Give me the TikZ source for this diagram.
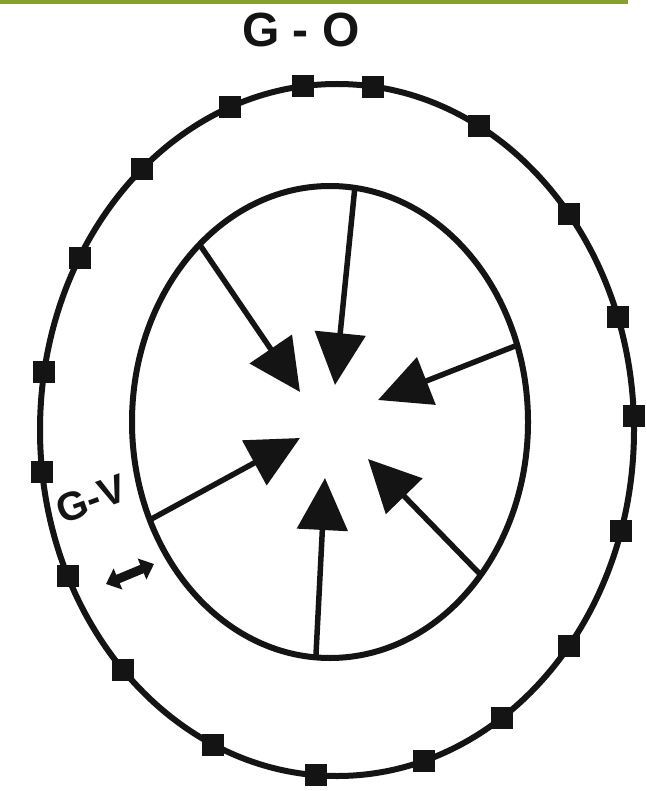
\documentclass[tikz,border=0pt]{standalone}
\usepackage{fontspec}
\setmainfont{Liberation Sans}
\usetikzlibrary{arrows.meta}
\definecolor{barcol}{HTML}{86A02C}
\definecolor{ink}{HTML}{141414}
\tikzset{
  ring/.style={draw=ink, line width=6pt},
  sq/.style={fill=ink, minimum size=22pt, inner sep=0pt, outer sep=0pt},
  pusharrow/.style={draw=ink, line width=5.5pt, -{Triangle[length=52pt,width=50pt]}, color=ink},
  gap/.style={draw=ink, line width=9pt, {Triangle[length=13pt,width=22pt]}-{Triangle[length=13pt,width=22pt]}},
}
\begin{document}
\begin{tikzpicture}[x=1pt,y=-1pt]
\useasboundingbox (0,0) rectangle (646,791);
\fill[white] (0,0) rectangle (646,791);
\fill[barcol] (0,0) rectangle (628,4);
% centres
\coordinate (oc) at (337,430);
\coordinate (ic) at (330,422);
% outer ring
\draw[ring] (oc) ellipse [x radius=297, y radius=346];
\foreach \a [count=\i] in {263.4,277,298.5,321.4,340.9,357.7,16.9,38.7,56.3,73.0,94.1,114.6,136.0,155.0,173.0,189.7,209.9,229.0,248.8}
  \path (oc) ++(\a:297 and 346) node[sq] (s\i) {};
% inner ring
\draw[ring] (ic) ellipse [x radius=198, y radius=236];
\foreach \a [count=\i] in {228.8,277.2,341,155.5,94.1,40.4}
  \path (ic) ++(\a:198 and 236) coordinate (a\i);
% arrow tips
\coordinate (t1) at (300,392);
\coordinate (t2) at (335,385);
\coordinate (t3) at (378,400);
\coordinate (t4) at (300,438);
\coordinate (t5) at (325,478);
\coordinate (t6) at (368,459);
\foreach \i in {1,...,6}
  \draw[pusharrow] (a\i) -- (t\i);
% gap arrow
\coordinate (d1) at (106,584);
\coordinate (d2) at (154,564);
\draw[gap] (d1) -- (d2);
% labels
\node[font=\fontsize{48}{48}\selectfont\bfseries, text=ink] (go) at (301,30) {G - O};
\node[font=\fontsize{40}{40}\selectfont\bfseries, text=ink, rotate=20, inner sep=0pt] (gv) at (91,499) {G-V};
\end{tikzpicture}
\end{document}
